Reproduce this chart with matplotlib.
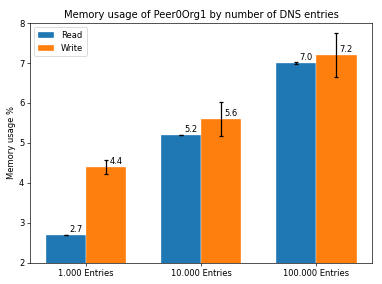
import numpy as np
import matplotlib
matplotlib.use('Agg')
import matplotlib.pyplot as plt

categories = ['1.000 Entries', '10.000 Entries', '100.000 Entries']
read_vals = [2.7, 5.2, 7.0]
read_err = [0.01, 0.01, 0.02]
write_vals = [4.4, 5.6, 7.2]
write_err = [0.18, 0.42, 0.56]

def autolabel(ax, rects):
    for rect in rects:
        h = rect.get_height()
        ax.annotate('%.1f' % h, xy=(rect.get_x() + rect.get_width() / 2, h),
                    xytext=(4, 1), textcoords='offset points',
                    ha='left', va='bottom')

fig, ax = plt.subplots(figsize=(382 / 60, 284 / 60), dpi=60)
fig.subplots_adjust(left=0.079, right=0.974, bottom=0.074, top=0.919)

ind = np.arange(len(categories))
width = 0.35
r1 = ax.bar(ind, read_vals, width, yerr=read_err, capsize=2.5,
            edgecolor='white', linewidth=0.4, label='Read',
            error_kw={'elinewidth': 1.5, 'capthick': 1.5})
r2 = ax.bar(ind + width, write_vals, width, yerr=write_err, capsize=2.5,
            edgecolor='white', linewidth=0.4, label='Write',
            error_kw={'elinewidth': 1.5, 'capthick': 1.5})
autolabel(ax, r1)
autolabel(ax, r2)

ax.set_ylim(2, 8)
ax.set_xticks(ind + width / 2)
ax.set_xticklabels(categories)
ax.set_ylabel('Memory usage %')
ax.set_title('Memory usage of Peer0Org1 by number of DNS entries')
ax.legend(loc='upper left')

plt.savefig('out.png', dpi=60)
